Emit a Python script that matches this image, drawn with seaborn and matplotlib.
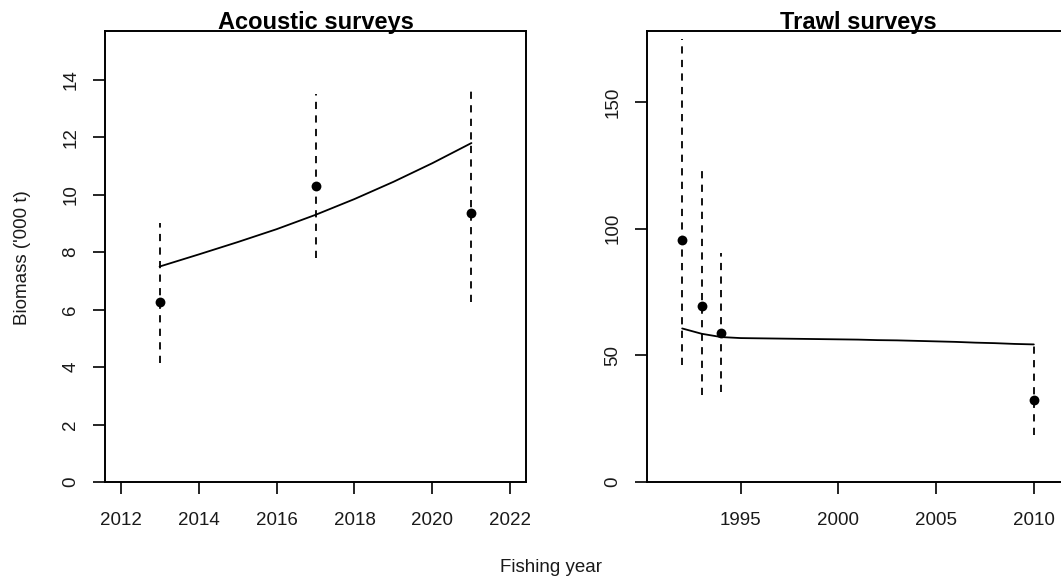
import matplotlib
matplotlib.use("Agg")
import matplotlib.pyplot as plt
import seaborn as sns
import pandas as pd
import numpy as np

# ---- Data ----
# Acoustic surveys
ac_years = [2013, 2017, 2021]
ac_obs = [6.25, 10.3, 9.35]
ac_lo = [4.15, 7.8, 6.25]
ac_hi = [9.0, 13.5, 13.6]
ac_fit_years = [2013, 2014, 2015, 2016, 2017, 2018, 2019, 2020, 2021]
ac_fit = [7.5, 7.92, 8.35, 8.8, 9.3, 9.85, 10.45, 11.1, 11.8]

# Trawl surveys
tr_years = [1992, 1993, 1994, 2010]
tr_obs = [95.5, 69.5, 58.7, 32.5]
tr_lo = [46.0, 34.5, 35.5, 18.5]
tr_hi = [175.0, 124.0, 90.5, 54.0]
tr_fit_years = list(range(1992, 2011))
tr_fit = [60.6, 58.5, 57.2, 56.8, 56.7, 56.6, 56.5, 56.4, 56.3, 56.2,
          56.0, 55.9, 55.7, 55.5, 55.3, 55.0, 54.8, 54.5, 54.3]

ac_xticks = [2012, 2014, 2016, 2018, 2020, 2022]
ac_yticks = [0, 2, 4, 6, 8, 10, 12, 14]
tr_xticks = [1995, 2000, 2005, 2010]
tr_yticks = [0, 50, 100, 150]

sns.set_style("white")
plt.rcParams['font.family'] = ['Liberation Sans', 'DejaVu Sans']

W, H = 1061, 581
fig = plt.figure(figsize=(W / 100, H / 100), dpi=100)

def px_axes(x0, y0, x1, y1):
    return fig.add_axes([x0 / W, 1 - y1 / H, (x1 - x0) / W, (y1 - y0) / H])

ax1 = px_axes(105, 31, 526, 482)
ax2 = px_axes(647, 31, 1069, 482)

def draw(ax, yrs, obs, lo, hi, fyrs, fit, xlim, ylim, xt, yt, title):
    fit_df = pd.DataFrame({"year": fyrs, "fit": fit})
    obs_df = pd.DataFrame({"year": yrs, "obs": obs})
    ax.vlines(yrs, lo, hi, colors="black", linestyles=(0, (4, 3.5)), linewidth=1.3, zorder=2)
    sns.lineplot(data=fit_df, x="year", y="fit", ax=ax, color="black", linewidth=1.3, zorder=3)
    sns.scatterplot(data=obs_df, x="year", y="obs", ax=ax, color="black", s=50,
                    edgecolor="black", linewidth=0, zorder=4)
    ax.set_xlim(*xlim)
    ax.set_ylim(*ylim)
    ax.set_xticks(xt)
    ax.set_yticks(yt)
    ax.set_xticklabels([str(v) for v in xt])
    ax.set_yticklabels([str(v) for v in yt])
    ax.set_xlabel("")
    ax.set_ylabel("")
    ax.tick_params(axis="both", direction="out", length=8.6, width=1.2, color="black",
                   labelsize=13.5, labelcolor="#1a1a1a", bottom=True, left=True)
    ax.tick_params(axis="x", pad=13)
    ax.tick_params(axis="y", pad=10)
    plt.setp(ax.get_yticklabels(), rotation=90, va="center")
    for s in ax.spines.values():
        s.set_visible(True)
        s.set_color("black")
        s.set_linewidth(1.4)
    ax.set_title(title, fontsize=17, fontweight="bold", pad=1.5, color="black")
    ax.grid(False)

draw(ax1, ac_years, ac_obs, ac_lo, ac_hi, ac_fit_years, ac_fit,
     (2011.6, 2022.4), (0, 15.7), ac_xticks, ac_yticks, "Acoustic surveys")
draw(ax2, tr_years, tr_obs, tr_lo, tr_hi, tr_fit_years, tr_fit,
     (1990.2, 2011.8), (0, 178), tr_xticks, tr_yticks, "Trawl surveys")

fig.text(23 / W, 1 - 258 / H, "Biomass ('000 t)", rotation=90, ha="center", va="center",
         fontsize=13.5, color="#1a1a1a")
fig.text(551 / W, 1 - 567 / H, "Fishing year", ha="center", va="center",
         fontsize=13.5, color="#1a1a1a")

fig.savefig("out.png", dpi=100)
